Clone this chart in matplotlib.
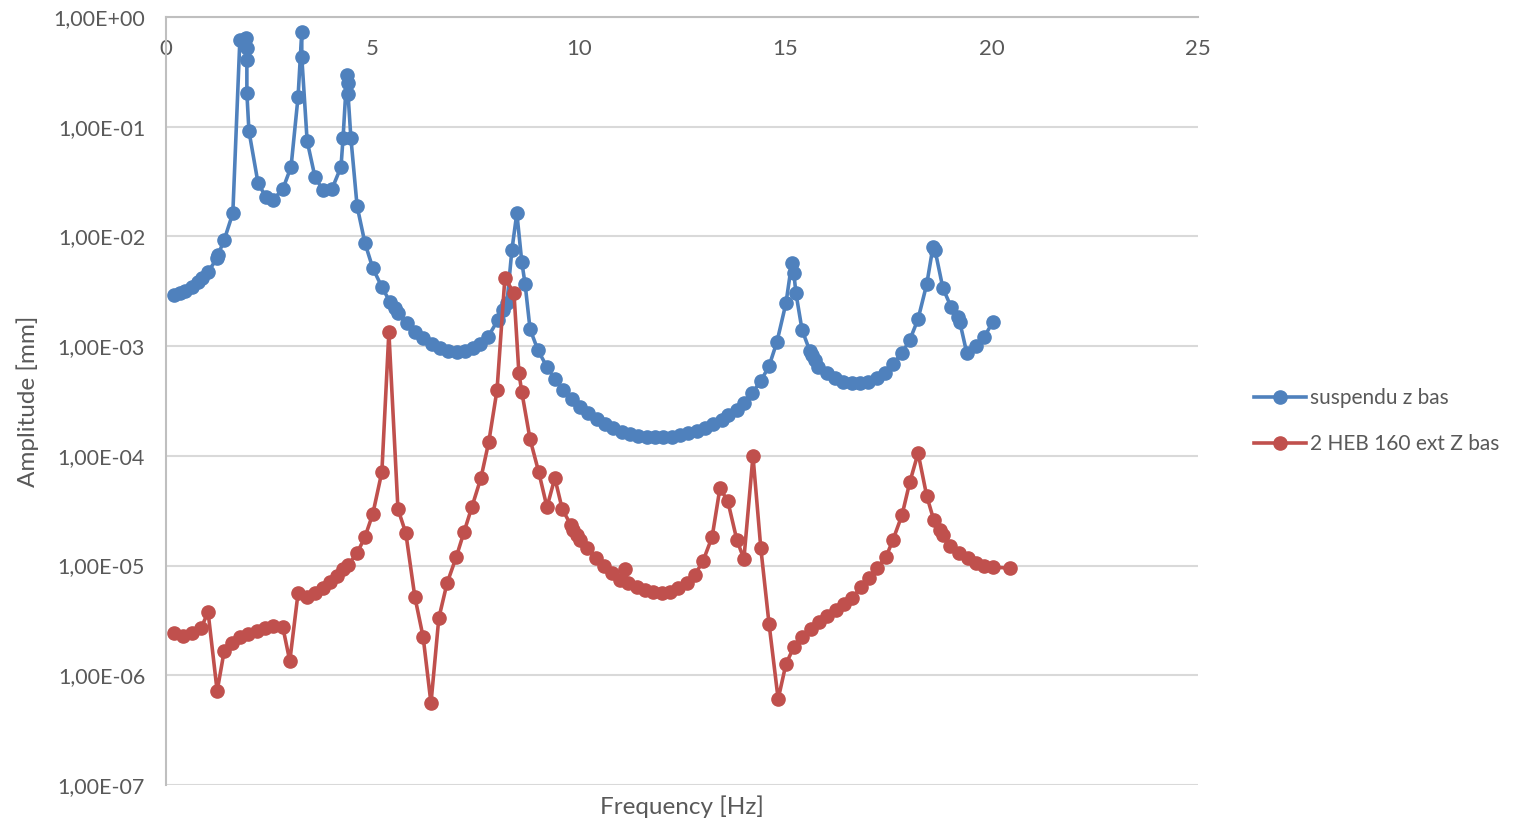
import matplotlib
matplotlib.use('Agg')
import matplotlib.pyplot as plt
from matplotlib.ticker import FixedLocator, FuncFormatter, NullLocator

plt.rcParams['font.family'] = ['Lato', 'DejaVu Sans']

# suspendu z bas
freq_susp = [0.19, 0.34, 0.46, 0.63, 0.78, 0.87, 1.02, 1.24, 1.26, 1.41, 1.62,
             1.79, 1.94, 1.96, 1.96, 1.96, 2.01, 2.23, 2.42, 2.59, 2.83, 3.03,
             3.20, 3.29, 3.29, 3.42, 3.61, 3.80, 4.02, 4.24, 4.29, 4.38, 4.41,
             4.41, 4.48, 4.63, 4.82, 5.01, 5.23, 5.43, 5.55, 5.62, 5.84, 6.03,
             6.23, 6.44, 6.64, 6.83, 7.05, 7.24, 7.44, 7.61, 7.80, 8.04, 8.16,
             8.26, 8.38, 8.50, 8.62, 8.70, 8.82, 9.01, 9.23, 9.42, 9.62, 9.84,
             10.03, 10.22, 10.44, 10.63, 10.83, 11.05, 11.24, 11.43, 11.65,
             11.85, 12.04, 12.26, 12.45, 12.65, 12.86, 13.06, 13.25, 13.47,
             13.61, 13.83, 14.00, 14.20, 14.41, 14.61, 14.80, 15.02, 15.16,
             15.21, 15.26, 15.41, 15.60, 15.65, 15.72, 15.79, 16.01, 16.21,
             16.40, 16.62, 16.81, 17.01, 17.22, 17.42, 17.61, 17.83, 18.02,
             18.22, 18.43, 18.58, 18.63, 18.82, 19.02, 19.19, 19.23, 19.40,
             19.62, 19.82, 20.03]
amp_susp = [2.92e-3, 3.05e-3, 3.18e-3, 3.46e-3, 3.84e-3, 4.18e-3, 4.74e-3,
            6.36e-3, 6.77e-3, 9.27e-3, 1.63e-2,
            0.617, 0.644, 0.522, 0.405, 0.203, 0.0914, 0.0307, 0.0229, 0.0215,
            0.0270, 0.0430, 0.187, 0.730, 0.432, 0.0741, 0.0348, 0.0265,
            0.0270, 0.0430, 0.0789, 0.296, 0.250, 0.199, 0.0789, 0.0189,
            8.71e-3, 5.15e-3, 3.46e-3, 2.52e-3, 2.22e-3, 2.00e-3, 1.63e-3,
            1.35e-3, 1.19e-3, 1.045e-3, 9.6e-4, 9.0e-4, 8.83e-4, 9.0e-4,
            9.6e-4, 1.045e-3, 1.21e-3, 1.73e-3, 2.13e-3, 2.47e-3, 7.52e-3,
            1.63e-2, 5.85e-3, 3.68e-3, 1.43e-3, 9.2e-4, 6.46e-4, 5.01e-4,
            3.98e-4, 3.30e-4, 2.79e-4, 2.46e-4, 2.17e-4, 1.95e-4, 1.79e-4,
            1.65e-4, 1.58e-4, 1.51e-4, 1.48e-4, 1.48e-4, 1.48e-4, 1.50e-4,
            1.55e-4, 1.61e-4, 1.68e-4, 1.79e-4, 1.95e-4, 2.12e-4, 2.35e-4,
            2.61e-4, 3.03e-4, 3.73e-4, 4.81e-4, 6.59e-4, 1.09e-3, 2.47e-3,
            5.73e-3, 4.64e-3, 3.05e-3, 1.40e-3, 9.0e-4, 8.3e-4, 7.47e-4,
            6.45e-4, 5.69e-4, 5.12e-4, 4.71e-4, 4.61e-4, 4.61e-4, 4.71e-4,
            5.12e-4, 5.69e-4, 6.87e-4, 8.65e-4, 1.14e-3, 1.77e-3, 3.68e-3,
            8.0e-3, 7.52e-3, 3.39e-3, 2.27e-3, 1.84e-3, 1.66e-3, 8.65e-4,
            1.0e-3, 1.21e-3, 1.66e-3]

# 2 HEB 160 ext Z bas
freq_heb = [0.19, 0.41, 0.63, 0.85, 1.02, 1.24, 1.41, 1.60, 1.79, 1.99, 2.20,
            2.40, 2.59, 2.83, 3.00, 3.20, 3.42, 3.61, 3.80, 3.97, 4.14, 4.29,
            4.41, 4.63, 4.82, 5.01, 5.23, 5.40, 5.62, 5.81, 6.03, 6.23, 6.42,
            6.61, 6.81, 7.03, 7.22, 7.41, 7.63, 7.82, 8.02, 8.21, 8.43, 8.55,
            8.62, 8.82, 9.03, 9.23, 9.42, 9.60, 9.81, 9.86, 9.96, 10.03, 10.20,
            10.42, 10.61, 10.80, 11.00, 11.12, 11.19, 11.41, 11.60, 11.80,
            12.02, 12.21, 12.40, 12.62, 12.81, 13.01, 13.23, 13.42, 13.61,
            13.83, 14.00, 14.22, 14.41, 14.61, 14.83, 15.02, 15.21, 15.41,
            15.62, 15.82, 16.01, 16.23, 16.42, 16.62, 16.84, 17.03, 17.22,
            17.44, 17.61, 17.83, 18.02, 18.22, 18.43, 18.60, 18.75, 18.82,
            18.99, 19.21, 19.43, 19.62, 19.82, 20.03, 20.45]
amp_heb = [2.43e-6, 2.28e-6, 2.43e-6, 2.69e-6, 3.77e-6, 7.18e-7, 1.66e-6,
           1.97e-6, 2.23e-6, 2.37e-6, 2.53e-6, 2.69e-6, 2.81e-6, 2.75e-6,
           1.35e-6, 5.61e-6, 5.16e-6, 5.61e-6, 6.24e-6, 7.08e-6, 8.02e-6,
           9.29e-6, 1.01e-5, 1.30e-5, 1.82e-5, 2.95e-5, 7.12e-5, 1.34e-3,
           3.27e-5, 1.98e-5, 5.16e-6, 2.23e-6, 5.57e-7, 3.32e-6, 6.92e-6,
           1.19e-5, 2.02e-5, 3.41e-5, 6.28e-5, 1.34e-4, 3.98e-4, 4.18e-3,
           3.05e-3, 5.69e-4, 3.82e-4, 1.42e-4, 7.12e-5, 3.41e-5, 6.28e-5,
           3.27e-5, 2.34e-5, 2.11e-5, 1.90e-5, 1.71e-5, 1.44e-5, 1.17e-5,
           9.89e-6, 8.55e-6, 7.38e-6, 9.29e-6, 6.92e-6, 6.37e-6, 5.98e-6,
           5.73e-6, 5.61e-6, 5.73e-6, 6.24e-6, 6.92e-6, 8.19e-6, 1.10e-5,
           1.82e-5, 5.08e-5, 3.87e-5, 1.71e-5, 1.15e-5, 9.96e-5, 1.44e-5,
           2.93e-6, 6.07e-7, 1.27e-6, 1.81e-6, 2.23e-6, 2.64e-6, 3.05e-6,
           3.46e-6, 3.93e-6, 4.46e-6, 5.06e-6, 6.37e-6, 7.69e-6, 9.48e-6,
           1.19e-5, 1.71e-5, 2.88e-5, 5.77e-5, 1.06e-4, 4.30e-5, 2.60e-5,
           2.11e-5, 1.90e-5, 1.51e-5, 1.30e-5, 1.17e-5, 1.05e-5, 9.89e-6,
           9.68e-6, 9.48e-6]

x_ticks = [0, 5, 10, 15, 20, 25]
y_ticks = [1e-7, 1e-6, 1e-5, 1e-4, 1e-3, 1e-2, 1e-1, 1e0]

text_color = '#595959'
grid_color = '#D9D9D9'

fig = plt.figure(figsize=(15.17, 8.25), dpi=100)
ax = fig.add_axes([0.1094, 0.0485, 0.6803, 0.9309])

ax.plot(freq_susp, amp_susp, color='#4F81BD', lw=2.6, marker='o', ms=9.5,
        label='suspendu z bas', zorder=3)
ax.plot(freq_heb, amp_heb, color='#C0504D', lw=2.6, marker='o', ms=9.5,
        label='2 HEB 160 ext Z bas', zorder=3)

ax.set_yscale('log')
ax.set_ylim(1e-7, 1e0)
ax.set_xlim(0, 25)
ax.yaxis.set_major_locator(FixedLocator(y_ticks))
ax.yaxis.set_minor_locator(NullLocator())


def sci_comma(v, pos):
    s = '%.2E' % v
    mant, ex = s.split('E')
    return mant.replace('.', ',') + 'E' + ('%+03d' % int(ex))


ax.yaxis.set_major_formatter(FuncFormatter(sci_comma))
ax.set_xticks(x_ticks)
ax.xaxis.set_ticks_position('top')
ax.tick_params(axis='x', length=0, pad=-30, labelsize=16, colors=text_color)
ax.tick_params(axis='y', length=0, pad=15, labelsize=15.5, colors=text_color)

ax.grid(axis='y', color=grid_color, lw=1.5)
ax.set_axisbelow(True)
for s in ['right', 'bottom']:
    ax.spines[s].set_visible(False)
ax.spines['left'].set_color('#BFBFBF')
ax.spines['top'].set_color('#BFBFBF')
ax.spines['left'].set_linewidth(1.5)
ax.spines['top'].set_linewidth(1.5)

ax.set_ylabel('Amplitude [mm]', fontsize=17.5, color=text_color, labelpad=10)
fig.text(0.4497, 0.022, 'Frequency [Hz]', fontsize=17.5, color=text_color,
         ha='center', va='center')

leg = ax.legend(loc='center left', bbox_to_anchor=(1.046, 0.474), frameon=False,
                fontsize=15, handlelength=2.5, handletextpad=0.2,
                labelspacing=1.25, borderaxespad=0)
for t in leg.get_texts():
    t.set_color(text_color)

fig.savefig('out.png', dpi=100)
